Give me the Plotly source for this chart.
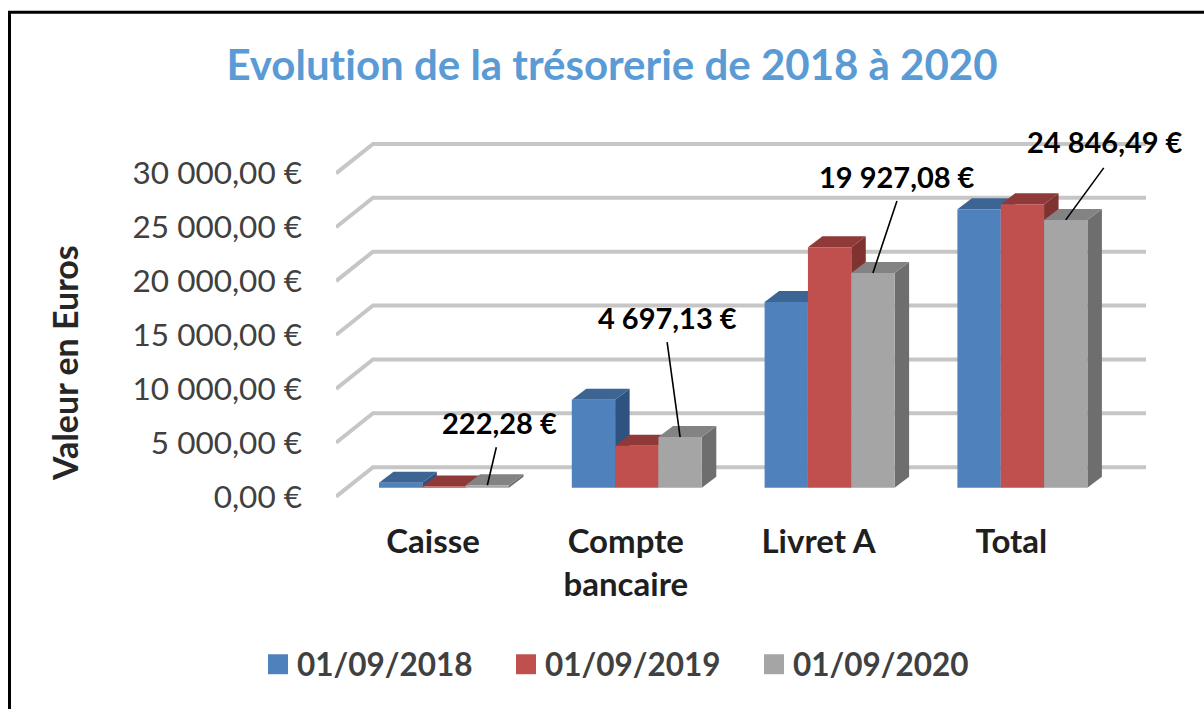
import plotly.graph_objects as go

# ---------- data ----------
categories = ["Caisse", "Compte<br>bancaire", "Livret A", "Total"]
series_names = ["01/09/2018", "01/09/2019", "01/09/2020"]
values_2018 = [460, 8150, 17220, 25830]
values_2019 = [100, 3890, 22300, 26290]
values_2020 = [222.28, 4697.13, 19927.08, 24846.49]
tick_values = [0, 5000, 10000, 15000, 20000, 25000, 30000]

# ---------- styling / layout ----------
W, H = 1204, 709
FONT = "Lato, Carlito, sans-serif"
front_colors = ["#4F81BD", "#C0504D", "#A5A5A5"]
top_colors = ["#3D6594", "#8F3A38", "#838383"]
side_colors = ["#2F5380", "#7F3331", "#6E6E6E"]

L, R = 336, 1146          # pixel extent of x axis
Y0, PX_PER_UNIT = 497, 0.0108
GROUP_PX = 192.8
GROUP0_CENTER = 444

x_min = (L - GROUP0_CENTER) / GROUP_PX
x_max = (R - GROUP0_CENTER) / GROUP_PX
y_min, y_max = -500, 33000
top_m = Y0 - y_max * PX_PER_UNIT
bot_m = H - (Y0 - y_min * PX_PER_UNIT)

bar_w = (130 / 3) / GROUP_PX
depth_x = 14.5 / GROUP_PX
depth_y = 11 / PX_PER_UNIT
base = 9 / PX_PER_UNIT
wall_x = 37 / GROUP_PX
wall_y = 29.5 / PX_PER_UNIT


def px_x(p):
    return (p - L) / (R - L)


def px_y(p):
    return (H - bot_m - p) / (H - bot_m - top_m)


def fmt(v):
    return f"{v:,.2f}".replace(",", " ").replace(".", ",") + " €"


fig = go.Figure()


def polys(rects, color):
    xs, ys = [], []
    for pts in rects:
        xs += [p[0] for p in pts] + [pts[0][0], None]
        ys += [p[1] for p in pts] + [pts[0][1], None]
    fig.add_trace(go.Scatter(x=xs, y=ys, mode="lines", fill="toself", fillcolor=color,
                             line=dict(width=0, color=color), showlegend=False,
                             hoverinfo="skip"))


all_series = [values_2018, values_2019, values_2020]
for s, vals in enumerate(all_series):
    fronts, tops, sides = [], [], []
    for i, v in enumerate(vals):
        x0 = i - 1.5 * bar_w + s * bar_w
        x1 = x0 + bar_w
        y0, y1 = base, base + v
        fronts.append([(x0, y0), (x1, y0), (x1, y1), (x0, y1)])
        tops.append([(x0, y1), (x1, y1), (x1 + depth_x, y1 + depth_y), (x0 + depth_x, y1 + depth_y)])
        sides.append([(x1, y0), (x1 + depth_x, y0 + depth_y), (x1 + depth_x, y1 + depth_y), (x1, y1)])
    polys(sides, side_colors[s])
    polys(tops, top_colors[s])
    polys(fronts, front_colors[s])

shapes = []
# walls' gridlines
for t in tick_values:
    b = t + wall_y
    path = f"M {x_min},{t} L {x_min + wall_x},{b} L {x_max},{b}"
    shapes.append(dict(type="path", path=path, xref="x", yref="y", layer="below",
                       line=dict(color="#C6C6C6", width=4)))

annotations = []
# data labels for the last series with leader lines
label_dx = [12, -13, 24, 39.5]
label_dy = [63, 120, 96, 78]
leader_dx = [9, -13, 24, 38]
leader_dy = [38, 95, 72, 52]
for i, v in enumerate(values_2020):
    ax = i - 1.5 * bar_w + 2.5 * bar_w
    ay = base + v
    shapes.append(dict(type="line", xref="x", yref="y", xsizemode="pixel", ysizemode="pixel",
                       xanchor=ax, yanchor=ay, x0=0, y0=0, x1=leader_dx[i], y1=leader_dy[i],
                       line=dict(color="black", width=1.6), layer="above"))
    annotations.append(dict(x=ax, y=ay, xref="x", yref="y", text=f"<b>{fmt(v)}</b>",
                            showarrow=False, xshift=label_dx[i], yshift=label_dy[i],
                            xanchor="center", yanchor="middle",
                            font=dict(family=FONT, size=29, color="black")))

# y-axis title
annotations.append(dict(x=px_x(65), y=px_y(363), xref="paper", yref="paper",
                        text="<b>Valeur en Euros</b>", textangle=-90, showarrow=False,
                        xanchor="center", yanchor="middle",
                        font=dict(family=FONT, size=34, color="#262626")))

# legend
legend_swatch_x = [268, 516, 764]
legend_text_x = [295, 543, 791]
for s, name in enumerate(series_names):
    shapes.append(dict(type="rect", xref="paper", yref="paper",
                       x0=px_x(legend_swatch_x[s]), x1=px_x(legend_swatch_x[s] + 20),
                       y0=px_y(675), y1=px_y(655),
                       fillcolor=front_colors[s], line=dict(width=0)))
    annotations.append(dict(x=px_x(legend_text_x[s]), y=px_y(665), xref="paper", yref="paper",
                            text=f"<b>{name}</b>", showarrow=False,
                            xanchor="left", yanchor="middle",
                            font=dict(family=FONT, size=31.5, color="#404040")))

# outer frame: left and top edges only; the others fall outside the picture
shapes.append(dict(type="rect", xref="paper", yref="paper",
                   x0=px_x(9.5), x1=px_x(1260), y0=px_y(760), y1=px_y(11.5),
                   line=dict(color="black", width=3), fillcolor="rgba(0,0,0,0)", layer="above"))

fig.update_layout(
    width=W, height=H,
    margin=dict(l=L, r=W - R, t=top_m, b=bot_m, pad=0),
    paper_bgcolor="white", plot_bgcolor="white",
    showlegend=False,
    title=dict(text="<b>Evolution de la trésorerie de 2018 à 2020</b>",
               x=612 / W, xanchor="center", y=1 - 65 / H, yanchor="middle",
               font=dict(family=FONT, size=42, color="#5B9BD5")),
    shapes=shapes, annotations=annotations,
    xaxis=dict(range=[x_min, x_max], showgrid=False, zeroline=False, showline=False,
               tickmode="array", tickvals=[i - 11 / GROUP_PX for i in range(len(categories))],
               ticktext=[f"<b>{c}</b>" for c in categories], ticks="", tickangle=0,
               ticklabelstandoff=17,
               tickfont=dict(family=FONT, size=33, color="#1F1F1F")),
    yaxis=dict(range=[y_min, y_max], showgrid=False, zeroline=False, showline=False,
               tickmode="array", tickvals=tick_values, ticktext=[fmt(t) for t in tick_values],
               ticks="", ticklabelstandoff=33,
               tickfont=dict(family=FONT, size=31.5, color="#404040")),
)

post = ("document.body.style.margin='0';"
        "var st=document.createElement('style');"
        "st.textContent='svg text{font-variant-ligatures:none !important;}';"
        "document.head.appendChild(st);")
fig.write_html("out.html", post_script=post, config={"displayModeBar": False})
